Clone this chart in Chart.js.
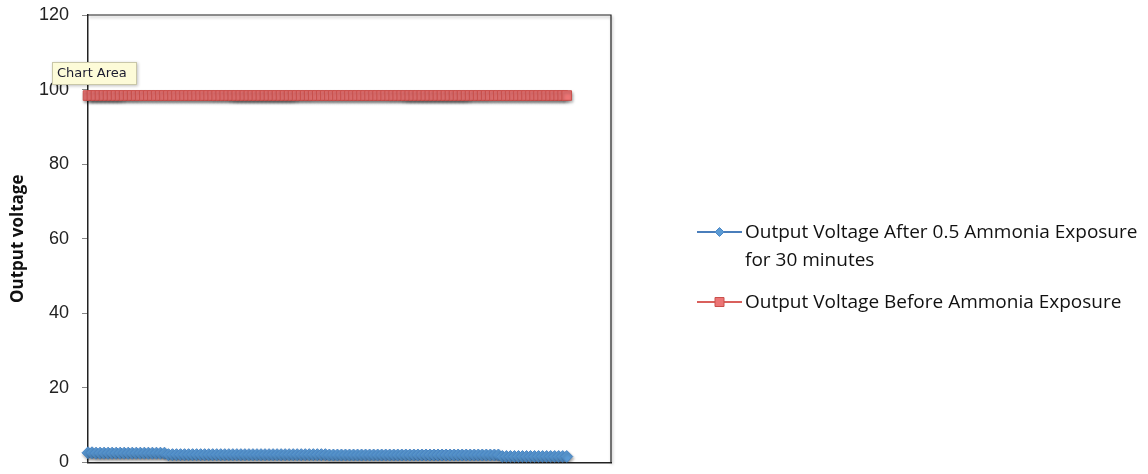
<!DOCTYPE html>
<html>
<head>
<meta charset="utf-8">
<script src="https://cdn.jsdelivr.net/npm/chart.js@4.4.1/dist/chart.umd.min.js"></script>
<style>
  html, body { margin: 0; padding: 0; background: #ffffff; }
  #wrap { position: relative; width: 1148px; height: 474px; }
</style>
</head>
<body>
<div id="wrap"><canvas id="c" width="1148" height="474"></canvas></div>
<script>
// Sample slots on the category axis (the axis runs a little past the last reading)
const sampleSlots = Array.from({ length: 131 }, (_, i) => String(i + 1));

// Output voltage after 0.5 ammonia exposure for 30 minutes
const afterExposure = [
  2.6, 2.6, 2.5, 2.5, 2.5, 2.5, 2.5, 2.5, 2.5, 2.5,
  2.5, 2.5, 2.5, 2.5, 2.5, 2.5, 2.5, 2.5, 2.5, 2.5,
  2.1, 2.1, 2.1, 2.1, 2.1, 2.1, 2.1, 2.1, 2.1, 2.1,
  2.1, 2.1, 2.1, 2.1, 2.1, 2.1, 2.1, 2.1, 2.1, 2.1,
  2.1, 2.1, 2.1, 2.1, 2.1, 2.1, 2.1, 2.1, 2.1, 2.1,
  2.1, 2.1, 2.1, 2.1, 2.1, 2.1, 2.1, 2.1, 2.1, 2.1,
  2.0, 2.0, 2.0, 2.0, 2.0, 2.0, 2.0, 2.0, 2.0, 2.0,
  2.0, 2.0, 2.0, 2.0, 2.0, 2.0, 2.0, 2.0, 2.0, 2.0,
  2.0, 2.0, 2.0, 2.0, 2.0, 2.0, 2.0, 2.0, 2.0, 2.0,
  2.0, 2.0, 2.0, 2.0, 2.0, 2.0, 2.0, 2.0, 2.0, 2.0,
  2.0, 2.0, 2.0, 1.6, 1.6, 1.6, 1.6, 1.6, 1.6, 1.6,
  1.6, 1.6, 1.6, 1.6, 1.6, 1.6, 1.6, 1.6, 1.6, 1.6
];

// Output voltage before ammonia exposure
const beforeExposure = [
  98.4, 98.4, 98.4, 98.4, 98.4, 98.4, 98.4, 98.4, 98.4, 98.4,
  98.4, 98.4, 98.4, 98.4, 98.4, 98.4, 98.4, 98.4, 98.4, 98.4,
  98.4, 98.4, 98.4, 98.4, 98.4, 98.4, 98.4, 98.4, 98.4, 98.4,
  98.4, 98.4, 98.4, 98.4, 98.4, 98.4, 98.4, 98.4, 98.4, 98.4,
  98.4, 98.4, 98.4, 98.4, 98.4, 98.4, 98.4, 98.4, 98.4, 98.4,
  98.4, 98.4, 98.4, 98.4, 98.4, 98.4, 98.4, 98.4, 98.4, 98.4,
  98.4, 98.4, 98.4, 98.4, 98.4, 98.4, 98.4, 98.4, 98.4, 98.4,
  98.4, 98.4, 98.4, 98.4, 98.4, 98.4, 98.4, 98.4, 98.4, 98.4,
  98.4, 98.4, 98.4, 98.4, 98.4, 98.4, 98.4, 98.4, 98.4, 98.4,
  98.4, 98.4, 98.4, 98.4, 98.4, 98.4, 98.4, 98.4, 98.4, 98.4,
  98.4, 98.4, 98.4, 98.4, 98.4, 98.4, 98.4, 98.4, 98.4, 98.4,
  98.4, 98.4, 98.4, 98.4, 98.4, 98.4, 98.4, 98.4, 98.4, 98.4
];

const seriesNames = [
  'Output Voltage After 0.5 Ammonia Exposure for 30 minutes',
  'Output Voltage Before Ammonia Exposure'
];
const yTicks = [0, 20, 40, 60, 80, 100, 120];

const LEGEND_FONT = '19px "Open Sans", sans-serif';

// Soft drop shadow under the series markers
const markerShadow = {
  id: 'markerShadow',
  beforeDatasetsDraw(chart) {
    const ctx = chart.ctx;
    ctx.save();
    ctx.shadowColor = 'rgba(0,0,0,0.35)';
    ctx.shadowBlur = 3;
    ctx.shadowOffsetX = 1;
    ctx.shadowOffsetY = 2;
  },
  afterDatasetsDraw(chart) {
    chart.ctx.restore();
  }
};

// Frame around the plot area (top and right edges)
const plotFrame = {
  id: 'plotFrame',
  beforeDatasetsDraw(chart) {
    const { ctx, chartArea: a } = chart;
    ctx.save();
    ctx.strokeStyle = '#222';
    ctx.lineWidth = 1.2;
    ctx.beginPath();
    ctx.moveTo(a.left, a.top);
    ctx.lineTo(a.right, a.top);
    ctx.lineTo(a.right, a.bottom);
    ctx.stroke();
    ctx.restore();
  }
};

// Legend on the right, with the long entry wrapped onto two lines
const sideLegend = {
  id: 'sideLegend',
  afterDraw(chart) {
    const ctx = chart.ctx;
    ctx.save();
    ctx.font = LEGEND_FONT;
    ctx.textBaseline = 'middle';
    const entries = [
      { ds: chart.data.datasets[0], lines: ['Output Voltage After 0.5 Ammonia Exposure', 'for 30 minutes'], y: 232 },
      { ds: chart.data.datasets[1], lines: ['Output Voltage Before Ammonia Exposure'], y: 302 }
    ];
    entries.forEach(e => {
      ctx.strokeStyle = e.ds.borderColor;
      ctx.lineWidth = 2;
      ctx.beginPath();
      ctx.moveTo(697, e.y);
      ctx.lineTo(742, e.y);
      ctx.stroke();
      ctx.fillStyle = e.ds.pointBackgroundColor;
      ctx.strokeStyle = e.ds.pointBorderColor;
      ctx.lineWidth = 1;
      ctx.beginPath();
      if (e.ds.pointStyle === 'rect') {
        ctx.rect(715, e.y - 4.5, 9, 9);
      } else {
        ctx.moveTo(719.5, e.y - 4.5);
        ctx.lineTo(724, e.y);
        ctx.lineTo(719.5, e.y + 4.5);
        ctx.lineTo(715, e.y);
        ctx.closePath();
      }
      ctx.fill();
      ctx.stroke();
      ctx.fillStyle = '#111';
      e.lines.forEach((t, i) => ctx.fillText(t, 745, e.y + 1 + i * 28));
    });
    ctx.restore();
  }
};

// Hover note box in the upper-left corner
const areaNote = {
  id: 'areaNote',
  afterDraw(chart) {
    const ctx = chart.ctx;
    ctx.save();
    ctx.shadowColor = 'rgba(0,0,0,0.25)';
    ctx.shadowBlur = 3;
    ctx.shadowOffsetX = 1;
    ctx.shadowOffsetY = 1;
    ctx.fillStyle = '#fdfbd8';
    ctx.fillRect(52, 62, 85, 23);
    ctx.shadowColor = 'transparent';
    ctx.strokeStyle = '#c9c7a8';
    ctx.lineWidth = 1;
    ctx.strokeRect(52.5, 62.5, 84, 22);
    ctx.fillStyle = '#1a1a2e';
    ctx.font = '13px "DejaVu Sans", sans-serif';
    ctx.textBaseline = 'middle';
    ctx.fillText('Chart Area', 57, 74);
    ctx.restore();
  }
};

new Chart(document.getElementById('c'), {
  type: 'line',
  data: {
    labels: sampleSlots,
    datasets: [
      {
        label: seriesNames[0],
        data: afterExposure,
        borderColor: '#4a7ebb',
        borderWidth: 2,
        pointStyle: 'rectRot',
        pointRadius: 6,
        pointBackgroundColor: '#5b9bd5',
        pointBorderColor: '#4a86c5',
        pointBorderWidth: 1,
        tension: 0
      },
      {
        label: seriesNames[1],
        data: beforeExposure,
        borderColor: '#d9605c',
        borderWidth: 2,
        pointStyle: 'rect',
        pointRadius: 6.8,
        pointBackgroundColor: '#ec7575',
        pointBorderColor: '#c9504c',
        pointBorderWidth: 1,
        tension: 0
      }
    ]
  },
  options: {
    responsive: false,
    animation: false,
    events: [],
    layout: { padding: { top: 15, right: 537, left: 0, bottom: 11.5 } },
    plugins: {
      legend: { display: false },
      tooltip: { enabled: false }
    },
    scales: {
      x: {
        offset: false,
        ticks: { display: false },
        grid: { display: false },
        border: { display: true, color: '#222', width: 1.5 },
        afterFit(s) { s.height = 0; s.paddingLeft = 0; s.paddingRight = 0; }
      },
      y: {
        min: 0,
        max: 120,
        afterBuildTicks(s) { s.ticks = yTicks.map(v => ({ value: v })); },
        ticks: {
          color: '#222',
          font: { family: '"Liberation Sans", Arial, sans-serif', size: 18 },
          padding: 13
        },
        grid: { drawOnChartArea: false, drawTicks: true, tickLength: 6, color: '#888' },
        border: { display: true, color: '#222', width: 1.5 },
        title: {
          display: true,
          text: 'Output voltage',
          color: '#111',
          font: { family: '"Open Sans", sans-serif', size: 17, weight: 'bold' },
          padding: { top: 8, bottom: 0 }
        },
        afterFit(s) { s.width = 88; s.paddingTop = 0; s.paddingBottom = 0; }
      }
    }
  },
  plugins: [markerShadow, plotFrame, sideLegend, areaNote]
});
</script>
</body>
</html>
